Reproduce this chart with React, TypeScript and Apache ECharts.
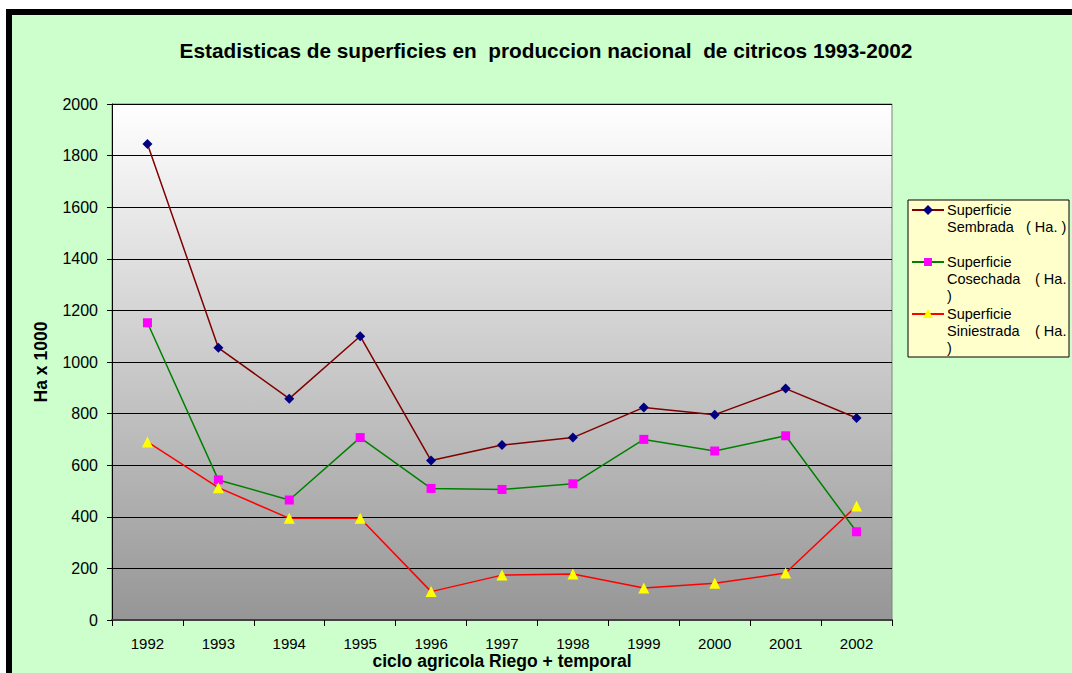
import React, { useEffect, useRef } from "react";
import * as echarts from "echarts";

const titleText = "Estadisticas de superficies en  produccion nacional  de citricos 1993-2002";
const categories = ["1992", "1993", "1994", "1995", "1996", "1997", "1998", "1999", "2000", "2001", "2002"];
const seriesNames = ["Superficie Sembrada ( Ha. )", "Superficie Cosechada ( Ha. )", "Superficie Siniestrada ( Ha. )"];
const sembrada = [1845, 1055, 858, 1100, 618, 678, 707, 824, 796, 897, 783];
const cosechada = [1152, 543, 465, 707, 510, 506, 528, 700, 655, 714, 342];
const siniestrada = [690, 513, 394, 394, 110, 174, 178, 124, 142, 182, 442];
const yTicks = { min: 0, max: 2000, interval: 200 };
const xAxisName = "ciclo agricola Riego + temporal";
const yAxisName = "Ha x 1000";

const FONT = "'Liberation Sans', Arial, sans-serif";

export default function App() {
  const ref = useRef<HTMLDivElement>(null);
  useEffect(() => {
    if (!ref.current) return;
    const chart = echarts.init(ref.current, null, { renderer: "svg" });
    const lx = 908, ly = 200;
    const itemY = [210, 262, 314];
    const lineColors = ["#800000", "#008000", "#FF0000"];
    const markerColors = ["#000080", "#FF00FF", "#FFFF00"];
    const legendEls: any[] = [
      {
        type: "rect",
        shape: { x: lx, y: ly, width: 161, height: 157 },
        style: { fill: "#FFFFCC", stroke: "#000", lineWidth: 1 },
        z: 10,
      },
    ];
    const texts = [
      [["Superficie", 947, 0], ["Sembrada", 947, 17], ["( Ha. )", 1026, 17]],
      [["Superficie", 947, 0], ["Cosechada", 947, 17], ["( Ha.", 1035, 17], [")", 947, 34]],
      [["Superficie", 947, 0], ["Siniestrada", 947, 17], ["( Ha.", 1035, 17], [")", 947, 34]],
    ];
    itemY.forEach((y, i) => {
      legendEls.push({
        type: "line",
        shape: { x1: 912, y1: y, x2: 944, y2: y },
        style: { stroke: lineColors[i], lineWidth: 2 },
        z: 11,
      });
      if (i === 0) {
        legendEls.push({
          type: "polygon",
          shape: { points: [[928, y - 5], [933, y], [928, y + 5], [923, y]] },
          style: { fill: markerColors[i] },
          z: 12,
        });
      } else if (i === 1) {
        legendEls.push({
          type: "rect",
          shape: { x: 924, y: y - 4, width: 8, height: 8 },
          style: { fill: markerColors[i] },
          z: 12,
        });
      } else {
        legendEls.push({
          type: "polygon",
          shape: { points: [[928, y - 5], [933, y + 4], [923, y + 4]] },
          style: { fill: markerColors[i] },
          z: 12,
        });
      }
      texts[i].forEach((t: any) => {
        legendEls.push({
          type: "text",
          x: t[1],
          y: y + t[2],
          style: {
            text: t[0],
            fill: "#000",
            font: `14.5px ${FONT}`,
            verticalAlign: "middle",
            align: "left",
          },
          z: 12,
        });
      });
    });

    const mkSeries = (name: string, data: number[], i: number, symbol: string, size: number) => ({
      name,
      type: "line",
      data,
      symbol,
      symbolSize: size,
      lineStyle: { color: lineColors[i], width: 1.5 },
      itemStyle: { color: markerColors[i] },
      z: 3 + i,
    });

    chart.setOption({
      animation: false,
      backgroundColor: "transparent",
      textStyle: { fontFamily: FONT },
      title: {
        text: titleText,
        left: 541,
        textAlign: "center",
        top: 35,
        textStyle: { fontSize: 20.8, fontWeight: "bold", color: "#000", fontFamily: FONT },
      },
      grid: {
        left: 112,
        top: 104,
        width: 780,
        height: 516,
        show: true,
        containLabel: false,
        outerBoundsMode: "none",
        borderColor: "#808080",
        borderWidth: 1,
        backgroundColor: {
          type: "linear",
          x: 0,
          y: 0,
          x2: 0,
          y2: 1,
          colorStops: [
            { offset: 0, color: "#FFFFFF" },
            { offset: 1, color: "#969696" },
          ],
        },
      },
      xAxis: {
        type: "category",
        data: categories,
        boundaryGap: true,
        name: xAxisName,
        nameLocation: "middle",
        nameGap: 32,
        nameMoveOverlap: false,
        nameTextStyle: { fontSize: 17.5, fontWeight: "bold", color: "#000", fontFamily: FONT },
        axisLine: { lineStyle: { color: "#404040", width: 2 } },
        axisTick: { show: true, length: 6, lineStyle: { color: "#000" } },
        axisLabel: { fontSize: 15, color: "#000", margin: 16, fontFamily: FONT },
        splitLine: { show: false },
      },
      yAxis: {
        type: "value",
        min: yTicks.min,
        max: yTicks.max,
        interval: yTicks.interval,
        name: yAxisName,
        nameLocation: "middle",
        nameGap: 62,
        nameRotate: 90,
        nameTextStyle: { fontSize: 17.5, fontWeight: "bold", color: "#000", fontFamily: FONT },
        axisLine: { show: true, lineStyle: { color: "#000", width: 1 } },
        axisTick: { show: true, length: 5, lineStyle: { color: "#000" } },
        axisLabel: { fontSize: 16, color: "#000", margin: 14, fontFamily: FONT, formatter: (v: number) => String(v) },
        splitLine: { show: true, lineStyle: { color: "#000", width: 1 } },
      },
      legend: { show: false, data: seriesNames },
      series: [
        mkSeries(seriesNames[0], sembrada, 0, "diamond", 10),
        mkSeries(seriesNames[1], cosechada, 1, "rect", 9),
        mkSeries(seriesNames[2], siniestrada, 2, "triangle", 11),
      ],
      graphic: legendEls,
    });
    return () => chart.dispose();
  }, []);

  return (
    <div style={{ position: "fixed", left: 0, top: 0, width: 1072, height: 673, background: "#fff", overflow: "hidden" }}>
      <div style={{ position: "absolute", left: 6, top: 9, width: 1066, height: 664, background: "#000" }} />
      <div style={{ position: "absolute", left: 12, top: 15, width: 1060, height: 658, background: "#CCFFCC" }} />
      <div ref={ref} style={{ position: "absolute", left: 0, top: 0, width: 1072, height: 673 }} />
    </div>
  );
}
